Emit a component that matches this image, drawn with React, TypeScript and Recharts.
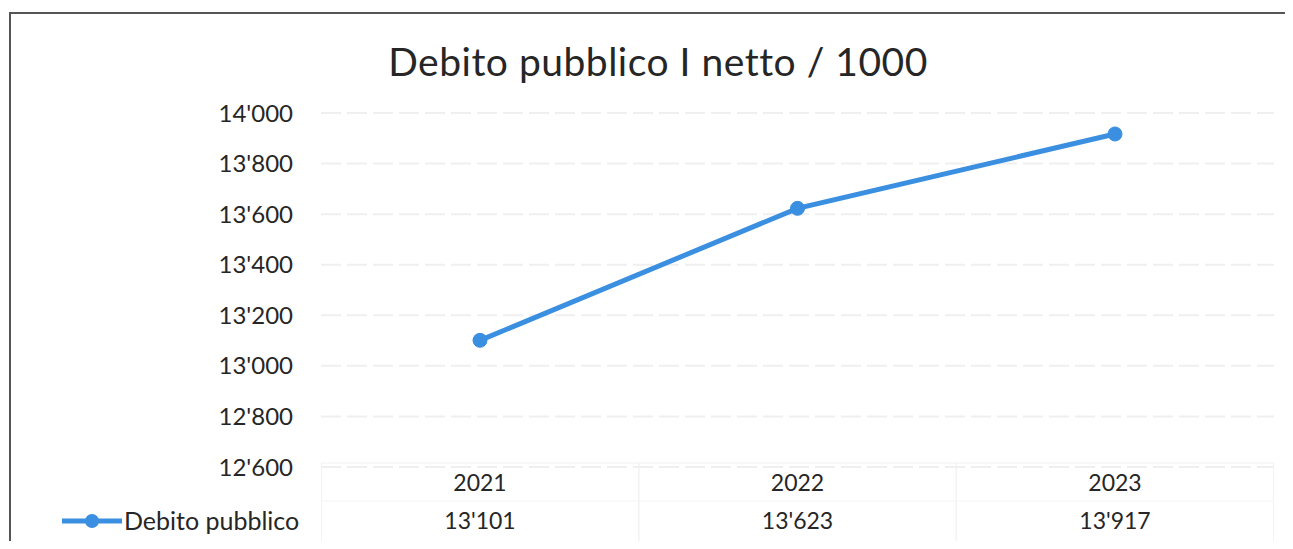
import { LineChart, Line, XAxis, YAxis, CartesianGrid } from "recharts";

const years = ["2021", "2022", "2023"];
const debito = [13101, 13623, 13917];
const yTicks = [12600, 12800, 13000, 13200, 13400, 13600, 13800, 14000];

const seriesName = "Debito pubblico";
const lineColor = "#3b8fe0";
const textColor = "#262626";
const fontFamily = "Lato, 'Noto Sans', sans-serif";

const data = years.map((year, i) => ({ year, debito: debito[i] }));

// swiss style thousands: 13'101
const fmt = (v: number) => String(Math.round(v)).replace(/\B(?=(\d{3})+(?!\d))/g, "'");

const CELL_W = 317;

function TableTick(props: any) {
  const { x, y, payload, index } = props;
  const value = debito[index];
  return (
    <g>
      <rect
        x={x - CELL_W / 2}
        y={y - 4}
        width={CELL_W}
        height={80}
        fill="none"
        stroke="#f2f2f2"
      />
      <line x1={x - CELL_W / 2} x2={x + CELL_W / 2} y1={y + 34} y2={y + 34} stroke="#f4f4f4" />
      <text x={x} y={y + 24} textAnchor="middle" fontSize={23} fill={textColor} fontFamily={fontFamily}>
        {payload.value}
      </text>
      <text x={x} y={y + 62} textAnchor="middle" fontSize={23} fill={textColor} fontFamily={fontFamily}>
        {fmt(value)}
      </text>
    </g>
  );
}

function LegendKey() {
  return (
    <svg width={270} height={34}>
      <line x1={2} x2={62} y1={17} y2={17} stroke={lineColor} strokeWidth={5} />
      <circle cx={32} cy={17} r={7} fill={lineColor} />
      <text x={64} y={26} fontSize={25} fill={textColor} fontFamily={fontFamily}>
        {seriesName}
      </text>
    </svg>
  );
}

export default function App() {
  return (
    <div
      style={{
        position: "relative",
        width: 1285,
        height: 533,
        overflow: "hidden",
        background: "#fff",
      }}
    >
      {/* chart frame: only left and top edges fall inside the picture */}
      <div
        style={{
          position: "absolute",
          left: 1,
          top: 4,
          width: 1284,
          height: 529,
          borderLeft: "2px solid #555",
          borderTop: "2px solid #555",
          boxSizing: "border-box",
        }}
      />
      <div
        style={{
          position: "absolute",
          top: 30,
          left: 0,
          width: 1300,
          textAlign: "center",
          fontFamily,
          fontSize: 39,
          letterSpacing: 0.5,
          color: textColor,
        }}
      >
        Debito pubblico I netto / 1000
      </div>
      <LineChart
        width={1285}
        height={541}
        data={data}
        margin={{ top: 105, right: 19, bottom: 0, left: 0 }}
        style={{ position: "absolute", left: 0, top: 0 }}
      >
        <CartesianGrid vertical={false} stroke="#efefef" strokeWidth={2} strokeDasharray="20 6" />
        <XAxis
          dataKey="year"
          axisLine={false}
          tickLine={false}
          tickSize={0}
          tickMargin={0}
          padding={{ left: 159, right: 159 }}
          tick={<TableTick />}
          height={82}
          interval={0}
        />
        <YAxis
          type="number"
          domain={[12600, 14000]}
          ticks={yTicks}
          tickFormatter={fmt}
          axisLine={false}
          tickLine={false}
          tickSize={0}
          tickMargin={28}
          width={313}
          tick={{ fontSize: 24, fill: textColor, fontFamily }}
        />
        <Line
          name={seriesName}
          dataKey="debito"
          stroke={lineColor}
          strokeWidth={5}
          dot={{ r: 7, fill: lineColor, stroke: lineColor, strokeWidth: 1 }}
          isAnimationActive={false}
        />
      </LineChart>
      <div style={{ position: "absolute", left: 52, top: 496 }}>
        <LegendKey />
      </div>
    </div>
  );
}
